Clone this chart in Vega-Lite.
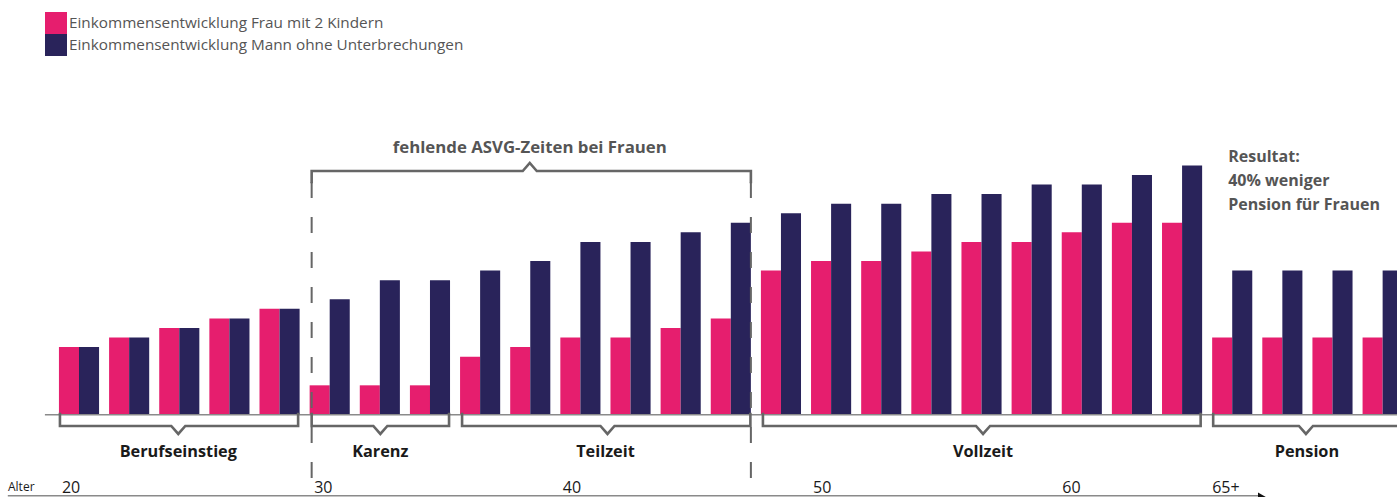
{
  "$schema": "https://vega.github.io/schema/vega-lite/v6.json",
  "width": 1397,
  "height": 497,
  "autosize": {"type": "none"},
  "padding": 0,
  "background": "white",
  "config": {"view": {"stroke": null}, "font": "Open Sans"},
  "datasets": {
    "bars": [
      {"g": 1, "s": "Frau", "v": 7}, {"g": 1, "s": "Mann", "v": 7},
      {"g": 2, "s": "Frau", "v": 8}, {"g": 2, "s": "Mann", "v": 8},
      {"g": 3, "s": "Frau", "v": 9}, {"g": 3, "s": "Mann", "v": 9},
      {"g": 4, "s": "Frau", "v": 10}, {"g": 4, "s": "Mann", "v": 10},
      {"g": 5, "s": "Frau", "v": 11}, {"g": 5, "s": "Mann", "v": 11},
      {"g": 6, "s": "Frau", "v": 3}, {"g": 6, "s": "Mann", "v": 12},
      {"g": 7, "s": "Frau", "v": 3}, {"g": 7, "s": "Mann", "v": 14},
      {"g": 8, "s": "Frau", "v": 3}, {"g": 8, "s": "Mann", "v": 14},
      {"g": 9, "s": "Frau", "v": 6}, {"g": 9, "s": "Mann", "v": 15},
      {"g": 10, "s": "Frau", "v": 7}, {"g": 10, "s": "Mann", "v": 16},
      {"g": 11, "s": "Frau", "v": 8}, {"g": 11, "s": "Mann", "v": 18},
      {"g": 12, "s": "Frau", "v": 8}, {"g": 12, "s": "Mann", "v": 18},
      {"g": 13, "s": "Frau", "v": 9}, {"g": 13, "s": "Mann", "v": 19},
      {"g": 14, "s": "Frau", "v": 10}, {"g": 14, "s": "Mann", "v": 20},
      {"g": 15, "s": "Frau", "v": 15}, {"g": 15, "s": "Mann", "v": 21},
      {"g": 16, "s": "Frau", "v": 16}, {"g": 16, "s": "Mann", "v": 22},
      {"g": 17, "s": "Frau", "v": 16}, {"g": 17, "s": "Mann", "v": 22},
      {"g": 18, "s": "Frau", "v": 17}, {"g": 18, "s": "Mann", "v": 23},
      {"g": 19, "s": "Frau", "v": 18}, {"g": 19, "s": "Mann", "v": 23},
      {"g": 20, "s": "Frau", "v": 18}, {"g": 20, "s": "Mann", "v": 24},
      {"g": 21, "s": "Frau", "v": 19}, {"g": 21, "s": "Mann", "v": 24},
      {"g": 22, "s": "Frau", "v": 20}, {"g": 22, "s": "Mann", "v": 25},
      {"g": 23, "s": "Frau", "v": 20}, {"g": 23, "s": "Mann", "v": 26},
      {"g": 24, "s": "Frau", "v": 8}, {"g": 24, "s": "Mann", "v": 15},
      {"g": 25, "s": "Frau", "v": 8}, {"g": 25, "s": "Mann", "v": 15},
      {"g": 26, "s": "Frau", "v": 8}, {"g": 26, "s": "Mann", "v": 15},
      {"g": 27, "s": "Frau", "v": 8}, {"g": 27, "s": "Mann", "v": 15}
    ],
    "brackets": [
      {"b": "Berufseinstieg", "o": 1, "x": 0.62, "y": 0},
      {"b": "Berufseinstieg", "o": 2, "x": 0.62, "y": -1.255},
      {"b": "Berufseinstieg", "o": 3, "x": 2.84, "y": -1.255},
      {"b": "Berufseinstieg", "o": 4, "x": 2.98, "y": -2.09},
      {"b": "Berufseinstieg", "o": 5, "x": 3.12, "y": -1.255},
      {"b": "Berufseinstieg", "o": 6, "x": 5.37, "y": -1.255},
      {"b": "Berufseinstieg", "o": 7, "x": 5.37, "y": 0},
      {"b": "Karenz", "o": 1, "x": 5.64, "y": 0},
      {"b": "Karenz", "o": 2, "x": 5.64, "y": -1.255},
      {"b": "Karenz", "o": 3, "x": 6.87, "y": -1.255},
      {"b": "Karenz", "o": 4, "x": 7.01, "y": -2.09},
      {"b": "Karenz", "o": 5, "x": 7.15, "y": -1.255},
      {"b": "Karenz", "o": 6, "x": 8.38, "y": -1.255},
      {"b": "Karenz", "o": 7, "x": 8.38, "y": 0},
      {"b": "Teilzeit", "o": 1, "x": 8.64, "y": 0},
      {"b": "Teilzeit", "o": 2, "x": 8.64, "y": -1.255},
      {"b": "Teilzeit", "o": 3, "x": 11.4, "y": -1.255},
      {"b": "Teilzeit", "o": 4, "x": 11.54, "y": -2.09},
      {"b": "Teilzeit", "o": 5, "x": 11.68, "y": -1.255},
      {"b": "Teilzeit", "o": 6, "x": 14.39, "y": -1.255},
      {"b": "Teilzeit", "o": 7, "x": 14.39, "y": 0},
      {"b": "Vollzeit", "o": 1, "x": 14.64, "y": 0},
      {"b": "Vollzeit", "o": 2, "x": 14.64, "y": -1.255},
      {"b": "Vollzeit", "o": 3, "x": 18.89, "y": -1.255},
      {"b": "Vollzeit", "o": 4, "x": 19.03, "y": -2.09},
      {"b": "Vollzeit", "o": 5, "x": 19.17, "y": -1.255},
      {"b": "Vollzeit", "o": 6, "x": 23.37, "y": -1.255},
      {"b": "Vollzeit", "o": 7, "x": 23.37, "y": 0},
      {"b": "Pension", "o": 1, "x": 23.62, "y": 0},
      {"b": "Pension", "o": 2, "x": 23.62, "y": -1.255},
      {"b": "Pension", "o": 3, "x": 25.33, "y": -1.255},
      {"b": "Pension", "o": 4, "x": 25.47, "y": -2.09},
      {"b": "Pension", "o": 5, "x": 25.61, "y": -1.255},
      {"b": "Pension", "o": 6, "x": 28.4, "y": -1.255},
      {"b": "Pension", "o": 7, "x": 28.4, "y": 0},
      {"b": "ASVG", "o": 1, "x": 5.64, "y": 24.27},
      {"b": "ASVG", "o": 2, "x": 5.64, "y": 25.42},
      {"b": "ASVG", "o": 3, "x": 9.85, "y": 25.42},
      {"b": "ASVG", "o": 4, "x": 9.99, "y": 26.26},
      {"b": "ASVG", "o": 5, "x": 10.13, "y": 25.42},
      {"b": "ASVG", "o": 6, "x": 14.4, "y": 25.42},
      {"b": "ASVG", "o": 7, "x": 14.4, "y": 24.27}
    ]
  },
  "layer": [
    {
      "data": {"name": "bars"},
      "mark": {"type": "bar"},
      "encoding": {
        "x": {
          "field": "g", "type": "ordinal", "axis": null,
          "scale": {"range": [53.93, 1407.7], "paddingInner": 0.2, "paddingOuter": 0.1}
        },
        "xOffset": {"field": "s", "type": "nominal", "sort": ["Frau", "Mann"]},
        "y": {
          "field": "v", "type": "quantitative", "axis": null, "stack": null,
          "scale": {"domain": [-8.682, 43.305], "nice": false, "zero": false}
        },
        "color": {
          "field": "s", "type": "nominal",
          "scale": {"domain": ["Frau", "Mann"], "range": ["#E61E6E", "#29235A"]},
          "legend": {
            "orient": "none", "legendX": 45, "legendY": 12, "title": null,
            "padding": 0, "symbolType": "square", "symbolSize": 484,
            "symbolStrokeWidth": 0, "symbolOpacity": 1, "rowPadding": 0,
            "labelFontSize": 15.3, "labelColor": "#555555", "labelOffset": 2,
            "labelLimit": 600, "labelFont": "Open Sans",
            "labelExpr": "datum.label == 'Frau' ? 'Einkommensentwicklung Frau mit 2 Kindern' : 'Einkommensentwicklung Mann ohne Unterbrechungen'"
          }
        }
      }
    },
    {
      "layer": [
        {
          "data": {"values": [{"x": 0.32, "x2": 28.5, "y": -0.08}]},
          "mark": {"type": "rule", "color": "#8a8a8a", "strokeWidth": 1.5},
          "encoding": {
            "x": {"field": "x", "type": "quantitative", "axis": null, "scale": {"domain": [-0.5756, 27.286], "nice": false, "zero": false}},
            "x2": {"field": "x2"},
            "y": {"field": "y", "type": "quantitative", "axis": null, "scale": {"domain": [-8.682, 43.305], "nice": false, "zero": false}}
          }
        },
        {
          "data": {"name": "brackets"},
          "mark": {"type": "line", "color": "#666666", "strokeWidth": 2.6, "strokeJoin": "miter", "strokeCap": "square"},
          "encoding": {
            "x": {"field": "x", "type": "quantitative", "axis": null, "scale": {"domain": [-0.5756, 27.286], "nice": false, "zero": false}},
            "y": {"field": "y", "type": "quantitative", "axis": null, "scale": {"domain": [-8.682, 43.305], "nice": false, "zero": false}},
            "detail": {"field": "b", "type": "nominal"},
            "order": {"field": "o", "type": "quantitative"}
          }
        },
        {
          "data": {"values": [{"x": 5.64, "y": 24.27, "y2": -8.7}, {"x": 14.4, "y": 24.27, "y2": -8.7}]},
          "mark": {"type": "rule", "color": "#666666", "strokeWidth": 2, "strokeDash": [16, 19]},
          "encoding": {
            "x": {"field": "x", "type": "quantitative", "axis": null, "scale": {"domain": [-0.5756, 27.286], "nice": false, "zero": false}},
            "y": {"field": "y", "type": "quantitative", "axis": null, "scale": {"domain": [-8.682, 43.305], "nice": false, "zero": false}},
            "y2": {"field": "y2"}
          }
        },
        {
          "data": {"values": [{"x": -0.42, "x2": 24.55, "y": -8.55}]},
          "mark": {"type": "rule", "color": "#8a8a8a", "strokeWidth": 1.5},
          "encoding": {
            "x": {"field": "x", "type": "quantitative", "axis": null, "scale": {"domain": [-0.5756, 27.286], "nice": false, "zero": false}},
            "x2": {"field": "x2"},
            "y": {"field": "y", "type": "quantitative", "axis": null, "scale": {"domain": [-8.682, 43.305], "nice": false, "zero": false}}
          }
        },
        {
          "data": {"values": [{"x": 24.62, "y": -8.85}]},
          "mark": {"type": "point", "shape": "triangle-right", "filled": true, "color": "#111111", "size": 150, "opacity": 1},
          "encoding": {
            "x": {"field": "x", "type": "quantitative", "axis": null, "scale": {"domain": [-0.5756, 27.286], "nice": false, "zero": false}},
            "y": {"field": "y", "type": "quantitative", "axis": null, "scale": {"domain": [-8.682, 43.305], "nice": false, "zero": false}}
          }
        },
        {
          "data": {"values": [
            {"t": "Berufseinstieg", "x": 2.98, "y": -3.975},
            {"t": "Karenz", "x": 7.01, "y": -3.975},
            {"t": "Teilzeit", "x": 11.5, "y": -3.975},
            {"t": "Vollzeit", "x": 19.03, "y": -3.975},
            {"t": "Pension", "x": 25.49, "y": -3.975}
          ]},
          "mark": {"type": "text", "font": "Open Sans", "fontSize": 16.3, "fontWeight": "bold", "color": "#1a1a1a", "align": "center", "baseline": "middle"},
          "encoding": {
            "x": {"field": "x", "type": "quantitative", "axis": null, "scale": {"domain": [-0.5756, 27.286], "nice": false, "zero": false}},
            "y": {"field": "y", "type": "quantitative", "axis": null, "scale": {"domain": [-8.682, 43.305], "nice": false, "zero": false}},
            "text": {"field": "t"}
          }
        },
        {
          "data": {"values": [
            {"t": "fehlende ASVG-Zeiten bei Frauen", "x": 9.99, "y": 27.82}
          ]},
          "mark": {"type": "text", "font": "Open Sans", "fontSize": 16.8, "fontWeight": "bold", "color": "#555555", "align": "center", "baseline": "middle"},
          "encoding": {
            "x": {"field": "x", "type": "quantitative", "axis": null, "scale": {"domain": [-0.5756, 27.286], "nice": false, "zero": false}},
            "y": {"field": "y", "type": "quantitative", "axis": null, "scale": {"domain": [-8.682, 43.305], "nice": false, "zero": false}},
            "text": {"field": "t"}
          }
        },
        {
          "data": {"values": [
            {"t": "Resultat:", "x": 23.92, "y": 26.88},
            {"t": "40% weniger", "x": 23.92, "y": 24.37},
            {"t": "Pension für Frauen", "x": 23.92, "y": 21.86}
          ]},
          "mark": {"type": "text", "font": "Open Sans", "fontSize": 16, "fontWeight": "bold", "color": "#555555", "align": "left", "baseline": "middle"},
          "encoding": {
            "x": {"field": "x", "type": "quantitative", "axis": null, "scale": {"domain": [-0.5756, 27.286], "nice": false, "zero": false}},
            "y": {"field": "y", "type": "quantitative", "axis": null, "scale": {"domain": [-8.682, 43.305], "nice": false, "zero": false}},
            "text": {"field": "t"}
          }
        },
        {
          "data": {"values": [
            {"t": "20", "x": 0.66, "y": -7.74},
            {"t": "30", "x": 5.69, "y": -7.74},
            {"t": "40", "x": 10.65, "y": -7.74},
            {"t": "50", "x": 15.64, "y": -7.74},
            {"t": "60", "x": 20.61, "y": -7.74},
            {"t": "65+", "x": 23.6, "y": -7.74}
          ]},
          "mark": {"type": "text", "font": "Open Sans", "fontSize": 16, "color": "#1a1a1a", "align": "left", "baseline": "middle"},
          "encoding": {
            "x": {"field": "x", "type": "quantitative", "axis": null, "scale": {"domain": [-0.5756, 27.286], "nice": false, "zero": false}},
            "y": {"field": "y", "type": "quantitative", "axis": null, "scale": {"domain": [-8.682, 43.305], "nice": false, "zero": false}},
            "text": {"field": "t"}
          }
        },
        {
          "data": {"values": [{"t": "Alter", "x": -0.416, "y": -7.64}]},
          "mark": {"type": "text", "font": "Open Sans", "fontSize": 12, "color": "#1a1a1a", "align": "left", "baseline": "middle"},
          "encoding": {
            "x": {"field": "x", "type": "quantitative", "axis": null, "scale": {"domain": [-0.5756, 27.286], "nice": false, "zero": false}},
            "y": {"field": "y", "type": "quantitative", "axis": null, "scale": {"domain": [-8.682, 43.305], "nice": false, "zero": false}},
            "text": {"field": "t"}
          }
        }
      ]
    }
  ],
  "resolve": {"scale": {"x": "independent"}}
}
